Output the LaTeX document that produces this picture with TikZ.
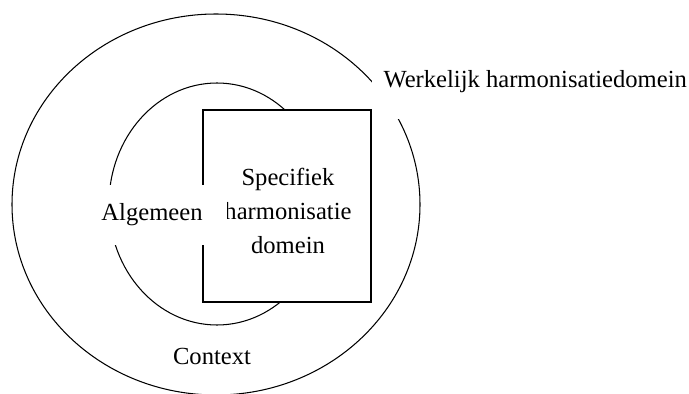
\documentclass[tikz,border=0pt]{standalone}
\usepackage{fontspec}
\setmainfont{Liberation Serif}
\usetikzlibrary{shapes.geometric}
\begin{document}
\begin{tikzpicture}[x=1pt,y=1pt,
  line width=1.05pt,
  lbl/.style={font=\fontsize{24.6}{34}\selectfont, inner sep=0pt},
  wbox/.style={lbl, fill=white},
  ell/.style={draw, ellipse, inner sep=0pt}]
\useasboundingbox (0,0) rectangle (689,394);
% outer ellipse
\node[ell, minimum width=408pt, minimum height=381pt] (outer) at (216,189.5) {};
% inner ellipse
\node[ell, minimum width=216pt, minimum height=242pt] (inner) at (217,190) {};
% rectangle
\node[draw, fill=white, minimum width=168pt, minimum height=192pt, inner sep=0pt] (box) at (287,188) {};
% texts
\node[lbl, align=center] (spec) at (288,183) {Specifiek\\harmonisatie\\domein};
\node[wbox, inner xsep=24pt, inner ysep=19pt, anchor=base] (alg) at (152,173) {Algemeen};
\node[lbl, anchor=base] (ctx) at (212,29) {Context};
\node[wbox, inner xsep=12pt, inner ysep=26pt, anchor=base west] (werk) at (371,306) {Werkelijk harmonisatiedomein};
\end{tikzpicture}
\end{document}
